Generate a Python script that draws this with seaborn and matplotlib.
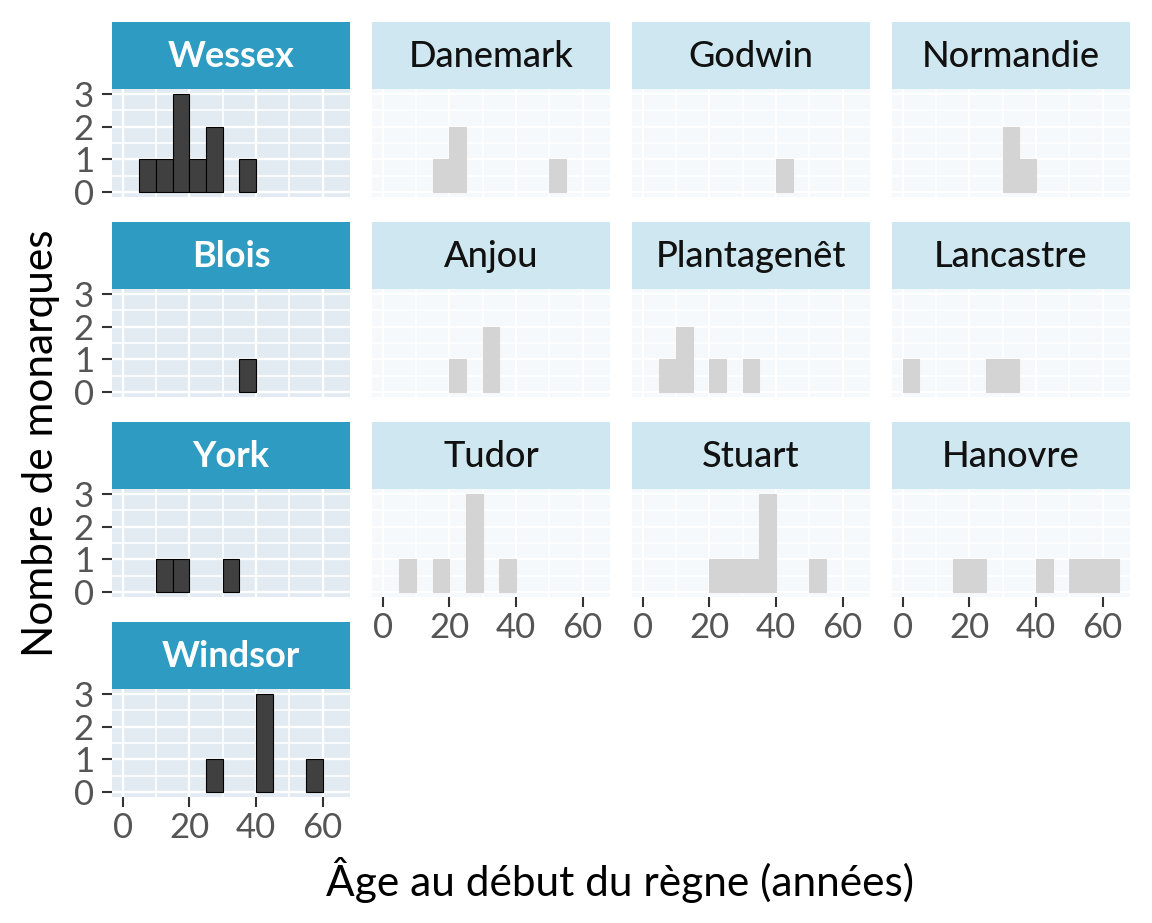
import numpy as np
import pandas as pd
import seaborn as sns
import matplotlib.pyplot as plt
from matplotlib.patches import Rectangle
from matplotlib.ticker import MultipleLocator

# Houses in chronological order, and age at start of reign for each monarch
houses = ["Wessex", "Danemark", "Godwin", "Normandie",
          "Blois", "Anjou", "Plantagenêt", "Lancastre",
          "York", "Tudor", "Stuart", "Hanovre",
          "Windsor"]

ages_wessex = [7, 12, 16, 17, 18, 21, 25, 28, 37]
ages_danemark = [19, 22, 23, 50]
ages_godwin = [44]
ages_normandie = [31, 32, 38]
ages_blois = [38]
ages_anjou = [21, 31, 32]
ages_plantagenet = [9, 10, 14, 23, 33]
ages_lancastre = [0, 26, 32]
ages_york = [12, 18, 30]
ages_tudor = [9, 17, 25, 27, 28, 37]
ages_stuart = [24, 26, 30, 36, 37, 38, 51]
ages_hanovre = [18, 22, 43, 54, 57, 64]
ages_windsor = [25, 40, 41, 44, 59]

highlighted = ["Wessex", "Blois", "York", "Windsor"]

all_ages = [ages_wessex, ages_danemark, ages_godwin, ages_normandie,
            ages_blois, ages_anjou, ages_plantagenet, ages_lancastre,
            ages_york, ages_tudor, ages_stuart, ages_hanovre, ages_windsor]

df = pd.DataFrame({
    "house": np.repeat(houses, [len(a) for a in all_ages]),
    "age": np.concatenate(all_ages),
})

bin_edges = np.arange(0, 70, 5)

# colours
strip_dark = "#2d9bc2"
strip_light = "#cfe7f0"
panel_dark = "#e3ebf2"
panel_light = "#f6f9fb"
bar_dark = "#404040"
bar_light = "#d4d4d4"

sns.set_style("white")
plt.rcParams["font.family"] = ["Lato", "DejaVu Sans"]

g = sns.FacetGrid(df, col="house", col_order=houses, col_wrap=4,
                  sharex=True, sharey=True, height=2.5, aspect=1.0)
g.figure.set_size_inches(11.52, 9.23)

for i, (ax, name) in enumerate(zip(g.axes.flat, houses)):
    hl = name in highlighted
    sub = df[df["house"] == name]
    ax.set_facecolor(panel_dark if hl else panel_light)
    sns.histplot(data=sub, x="age", bins=bin_edges, ax=ax,
                 color=bar_dark if hl else bar_light,
                 edgecolor="black" if hl else bar_light,
                 linewidth=0.8, alpha=1, zorder=3)
    # empty bins would show up as a flat line on the baseline
    for p in list(ax.patches):
        if p.get_height() == 0:
            p.remove()

    ax.set_title("")
    ax.set_xlabel("")
    ax.set_ylabel("")
    ax.set_xlim(-3.25, 68.25)
    ax.set_ylim(-0.15, 3.15)
    ax.set_xticks([0, 20, 40, 60])
    ax.set_yticks([0, 1, 2, 3])
    ax.xaxis.set_minor_locator(MultipleLocator(10))
    ax.yaxis.set_minor_locator(MultipleLocator(0.5))
    ax.set_axisbelow(True)
    ax.grid(which="major", color="white", linewidth=1.6)
    ax.grid(which="minor", color="white", linewidth=1.1)
    for s in ax.spines.values():
        s.set_visible(False)

    show_y = (i % 4 == 0)
    show_x = i >= 9
    ax.tick_params(axis="both", which="minor", length=0)
    ax.tick_params(axis="x", which="major", bottom=show_x, labelbottom=show_x,
                   length=7, width=1.5, color="#333333", pad=4,
                   labelsize=25, labelcolor="#555555")
    ax.tick_params(axis="y", which="major", left=show_y, labelleft=show_y,
                   length=7, width=1.5, color="#333333", pad=6,
                   labelsize=25, labelcolor="#555555")

    # ggplot-like facet strip
    ax.add_patch(Rectangle((0, 1.0), 1, 0.62, transform=ax.transAxes,
                           facecolor=strip_dark if hl else strip_light,
                           edgecolor="none", clip_on=False))
    ax.text(0.5, 1.30, name, transform=ax.transAxes, ha="center", va="center",
            fontsize=26, color="white" if hl else "#111111",
            fontweight="bold" if hl else "medium")

g.figure.subplots_adjust(left=0.0972, right=0.9809, top=0.9036, bottom=0.1365,
                         wspace=0.0924, hspace=0.852)

g.figure.text(0.036, 0.52, "Nombre de monarques", rotation=90,
              ha="center", va="center", fontsize=30.5, color="black")
g.figure.text(620 / 1152, 1 - 880 / 923, "Âge au début du règne (années)",
              ha="center", va="center", fontsize=30.5, color="black")

g.figure.savefig("out.png", dpi=100, facecolor="white")
